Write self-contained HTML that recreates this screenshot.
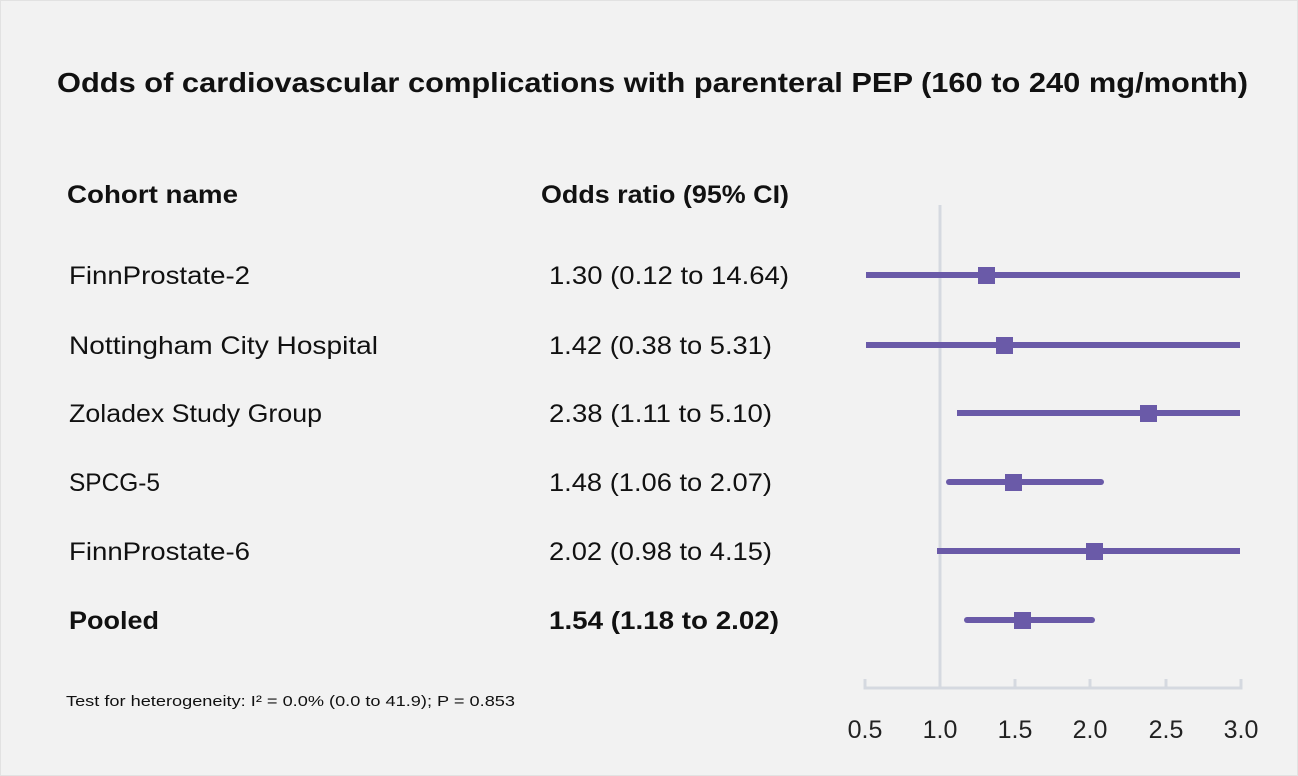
<!DOCTYPE html>
<html><head><meta charset="utf-8"><style>
html,body{margin:0;padding:0;background:#f2f2f2;}
svg{display:block;font-family:"Liberation Sans",sans-serif;}
</style></head><body>
<svg width="1298" height="776" viewBox="0 0 1298 776" xmlns="http://www.w3.org/2000/svg">
<rect x="0" y="0" width="1298" height="776" fill="#f2f2f2"/>
<rect x="0.5" y="0.5" width="1297" height="775" fill="none" stroke="#e2e2e2"/>
<text x="57" y="92" font-size="28" font-weight="bold" fill="#111" textLength="1191" lengthAdjust="spacingAndGlyphs">Odds of cardiovascular complications with parenteral PEP (160 to 240 mg/month)</text>
<text x="67" y="203" font-size="25" font-weight="bold" fill="#111" textLength="171" lengthAdjust="spacingAndGlyphs">Cohort name</text>
<text x="541" y="203" font-size="25" font-weight="bold" fill="#111" textLength="248" lengthAdjust="spacingAndGlyphs">Odds ratio (95% CI)</text>
<g font-size="25" fill="#111">
<text x="69" y="284" textLength="181" lengthAdjust="spacingAndGlyphs">FinnProstate-2</text>
<text x="69" y="354" textLength="309" lengthAdjust="spacingAndGlyphs">Nottingham City Hospital</text>
<text x="69" y="422" textLength="253" lengthAdjust="spacingAndGlyphs">Zoladex Study Group</text>
<text x="69" y="491" textLength="91" lengthAdjust="spacingAndGlyphs">SPCG-5</text>
<text x="69" y="560" textLength="181" lengthAdjust="spacingAndGlyphs">FinnProstate-6</text>
<text x="69" y="629" font-weight="bold" textLength="90" lengthAdjust="spacingAndGlyphs">Pooled</text>
<text x="549" y="284" textLength="240" lengthAdjust="spacingAndGlyphs">1.30 (0.12 to 14.64)</text>
<text x="549" y="354" textLength="223" lengthAdjust="spacingAndGlyphs">1.42 (0.38 to 5.31)</text>
<text x="549" y="422" textLength="223" lengthAdjust="spacingAndGlyphs">2.38 (1.11 to 5.10)</text>
<text x="549" y="491" textLength="223" lengthAdjust="spacingAndGlyphs">1.48 (1.06 to 2.07)</text>
<text x="549" y="560" textLength="223" lengthAdjust="spacingAndGlyphs">2.02 (0.98 to 4.15)</text>
<text x="549" y="629" font-weight="bold" textLength="230" lengthAdjust="spacingAndGlyphs">1.54 (1.18 to 2.02)</text>
</g>
<text x="66" y="706" font-size="15" fill="#111" textLength="449" lengthAdjust="spacingAndGlyphs">Test for heterogeneity: I² = 0.0% (0.0 to 41.9); P = 0.853</text>
<g stroke="#d5d9e0" stroke-width="3" fill="none">
<line x1="940" y1="205" x2="940" y2="688"/>
<polyline points="865,679 865,688 1241,688 1241,679"/>
<line x1="1015" y1="679" x2="1015" y2="688"/>
<line x1="1090" y1="679" x2="1090" y2="688"/>
<line x1="1166" y1="679" x2="1166" y2="688"/>
</g>
<g stroke="#6a5aa8" stroke-width="6" stroke-linecap="round">
<line x1="866" y1="275" x2="1240" y2="275" stroke-linecap="butt"/>
<line x1="866" y1="345" x2="1240" y2="345" stroke-linecap="butt"/>
<line x1="957" y1="413" x2="1240" y2="413" stroke-linecap="butt"/>
<line x1="949" y1="482" x2="1101" y2="482"/>
<line x1="937" y1="551" x2="1240" y2="551" stroke-linecap="butt"/>
<line x1="967" y1="620" x2="1092" y2="620"/>
</g>
<g fill="#6a5aa8">
<rect x="978" y="267" width="17" height="17"/>
<rect x="996" y="337" width="17" height="17"/>
<rect x="1140" y="405" width="17" height="17"/>
<rect x="1005" y="474" width="17" height="17"/>
<rect x="1086" y="543" width="17" height="17"/>
<rect x="1014" y="612" width="17" height="17"/>
</g>
<g font-size="25" fill="#222" text-anchor="middle">
<text x="865" y="738">0.5</text>
<text x="940" y="738">1.0</text>
<text x="1015" y="738">1.5</text>
<text x="1090" y="738">2.0</text>
<text x="1166" y="738">2.5</text>
<text x="1241" y="738">3.0</text>
</g>
</svg>
</body></html>
